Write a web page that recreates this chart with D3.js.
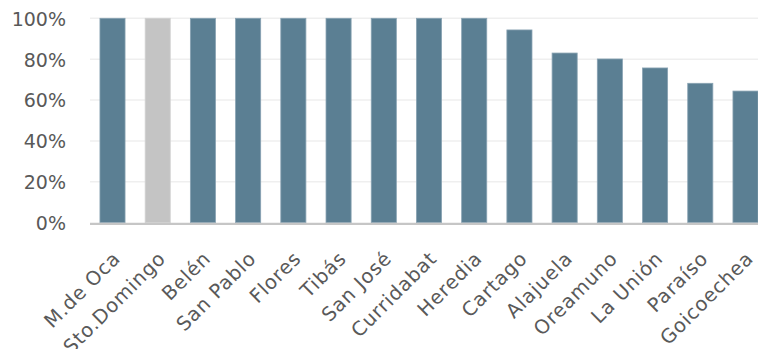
<!DOCTYPE html>
<html>
<head>
<meta charset="utf-8">
<script src="https://cdn.jsdelivr.net/npm/d3@7"></script>
<style>
  html, body { margin: 0; padding: 0; background: #fff; }
  svg { display: block; }
  text { font-family: "DejaVu Sans", sans-serif; fill: #595959; }
</style>
</head>
<body>
<svg id="chart" width="758" height="349"></svg>
<script>
// Share per canton (percent)
const cantons = ["M.de Oca", "Sto.Domingo", "Belén", "San Pablo", "Flores", "Tibás", "San José",
  "Curridabat", "Heredia", "Cartago", "Alajuela", "Oreamuno", "La Unión", "Paraíso", "Goicoechea"];
const shares = [100, 100, 100, 100, 100, 100, 100, 100, 100, 94.3, 83.0, 80.1, 75.7, 68.2, 64.4];
const highlighted = ["Sto.Domingo"];
const yTicks = [0, 20, 40, 60, 80, 100];

const svg = d3.select("#chart");
const W = 758, H = 349;
const plot = { left: 90, right: 768, top: 18.3, bottom: 222.7 };

const x = d3.scaleBand().domain(cantons).range([plot.left, plot.right]).paddingInner(0.445).paddingOuter(0.22);
const y = d3.scaleLinear().domain([0, 100]).range([plot.bottom, plot.top]);

// gridlines
svg.append("g")
  .selectAll("line")
  .data(yTicks.filter(d => d > 0))
  .join("line")
  .attr("x1", plot.left).attr("x2", W)
  .attr("y1", d => y(d)).attr("y2", d => y(d))
  .attr("stroke", "#efefef").attr("stroke-width", 1.5);

// y axis labels
const yAxis = d3.axisLeft(y).tickValues(yTicks).tickFormat(d => d + "%").tickSize(0).tickPadding(0);
const yg = svg.append("g").attr("transform", `translate(66,0)`).call(yAxis);
yg.select(".domain").remove();
yg.selectAll("text").attr("font-size", 19).attr("fill", "#595959")
  .attr("font-family", "DejaVu Sans, sans-serif").attr("dy", "0.36em");

// bars
svg.append("g")
  .selectAll("rect")
  .data(cantons.map((c, i) => ({ c, v: shares[i] })))
  .join("rect")
  .attr("x", d => x(d.c))
  .attr("width", x.bandwidth())
  .attr("y", d => y(d.v))
  .attr("height", d => y(0) - y(d.v))
  .attr("fill", d => highlighted.includes(d.c) ? "#c4c4c4" : "#5b7f93")
  .attr("stroke", d => highlighted.includes(d.c) ? "#d2d2d2" : "#88a2b2")
  .attr("stroke-width", 0.8);

// baseline
svg.append("line")
  .attr("x1", plot.left).attr("x2", W)
  .attr("y1", y(0) + 1.2).attr("y2", y(0) + 1.2)
  .attr("stroke", "#c6c6c6").attr("stroke-width", 2.4);

// category labels, rotated 45 degrees, ending just below each bar
svg.append("g")
  .selectAll("text")
  .data(cantons)
  .join("text")
  .attr("font-size", 19.5)
  .attr("letter-spacing", 0.8)
  .attr("fill", "#595959")
  .attr("text-anchor", "end")
  .attr("transform", d => `translate(${x(d) + x.bandwidth() / 2 + 9},${plot.bottom + 37}) rotate(-45)`)
  .text(d => d);
</script>
</body>
</html>
